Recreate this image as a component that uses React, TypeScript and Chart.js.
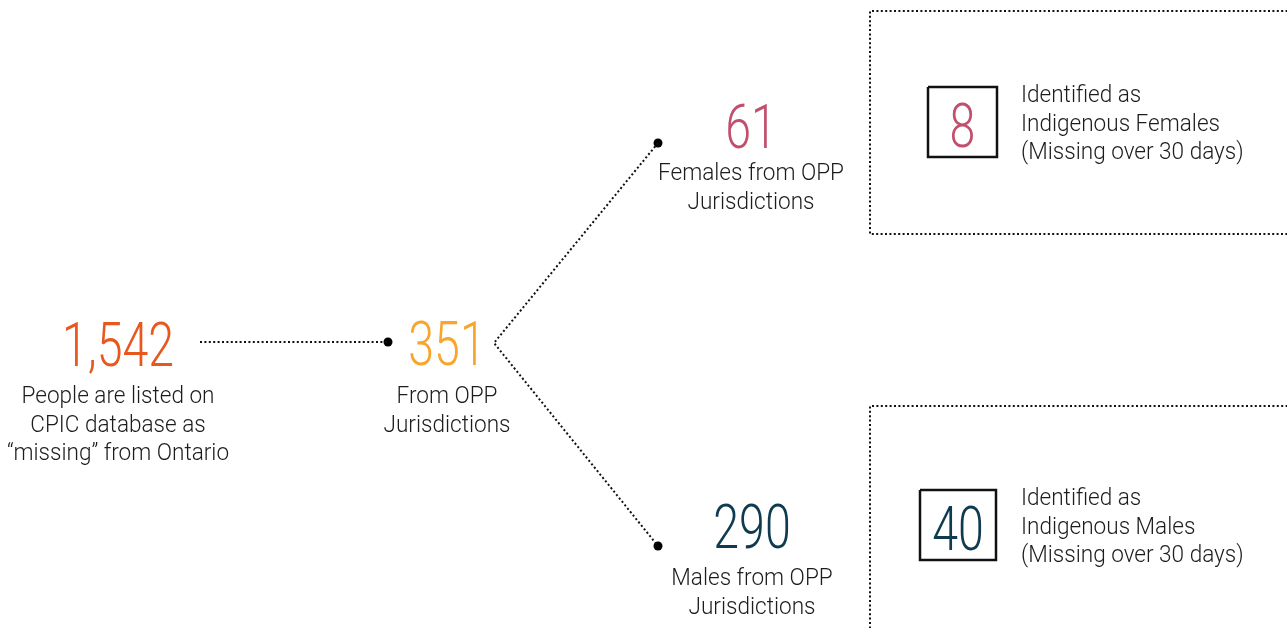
import { useEffect, useRef } from 'react';
import { Chart, registerables } from 'chart.js';

Chart.register(...registerables);

// ---------- data ----------
const stageValues = [1542, 351, 61, 290];
const stageCaptions = [
  ['People are listed on', 'CPIC database as', '\u201Cmissing\u201D from Ontario'],
  ['From OPP', 'Jurisdictions'],
  ['Females from OPP', 'Jurisdictions'],
  ['Males from OPP', 'Jurisdictions'],
];
const indigenousValues = [8, 40];
const indigenousCaptions = [
  ['Identified as', 'Indigenous Females', '(Missing over 30 days)'],
  ['Identified as', 'Indigenous Males', '(Missing over 30 days)'],
];

// ---------- layout / style ----------
const W = 1287;
const H = 628;
const stageColors = ['#E8571E', '#F9A52B', '#C1506F', '#0E3B4F'];
const indigenousColors = ['#C1506F', '#0E3B4F'];
const stageAnchors = [
  { x: 118, numBase: 366, capBase: 403 },
  { x: 447, numBase: 365, capBase: 403 },
  { x: 751, numBase: 148, capBase: 180 },
  { x: 752, numBase: 548, capBase: 585 },
];
const connectors = [
  [[200, 342], [388, 342]],
  [[658, 143], [494, 343], [658, 546]],
];
const connectorDots = [[388, 342], [658, 143], [658, 546]];
const panels = [
  [[W + 5, 11], [870, 11], [870, 234], [W + 5, 234]],
  [[W + 5, 406], [870, 406], [870, H + 5]],
];
const squares = [
  { x0: 928, y0: 87, x1: 997, y1: 157 },
  { x0: 920, y0: 490, x1: 996, y1: 560 },
];
const indTextX = 1021;
const indTextBase = [102, 505];
const LINE_GAP = 28.7;
const FONT = 'Roboto, "Liberation Sans", sans-serif';
const BIG = 62;
const SMALL = 24;
const BIG_SX = 0.75;
const SMALL_SX = 0.94;

const pts = (arr: number[][]) => arr.map(([x, y]) => ({ x, y }));

function drawText(
  ctx: CanvasRenderingContext2D,
  text: string,
  x: number,
  y: number,
  size: number,
  color: string,
  align: CanvasTextAlign,
  sx: number
) {
  ctx.save();
  ctx.font = `300 ${size}px ${FONT}`;
  ctx.fillStyle = color;
  ctx.textBaseline = 'alphabetic';
  ctx.textAlign = align;
  ctx.translate(x, y);
  ctx.scale(sx, 1);
  ctx.fillText(text, 0, 0);
  ctx.restore();
}

const textPlugin = {
  id: 'infoText',
  afterDatasetsDraw(chart: any) {
    const ctx = chart.ctx as CanvasRenderingContext2D;
    const sx = chart.scales.x;
    const sy = chart.scales.y;
    const px = (v: number) => sx.getPixelForValue(v);
    const py = (v: number) => sy.getPixelForValue(v);
    stageValues.forEach((v, i) => {
      const a = stageAnchors[i];
      drawText(ctx, v.toLocaleString('en-US'), px(a.x), py(a.numBase), BIG, stageColors[i], 'center', BIG_SX);
      stageCaptions[i].forEach((line, j) => {
        drawText(ctx, line, px(a.x), py(a.capBase + j * LINE_GAP), SMALL, '#1c1c1c', 'center', SMALL_SX);
      });
    });
    indigenousValues.forEach((v, i) => {
      const s = squares[i];
      const cx = (s.x0 + s.x1) / 2;
      drawText(ctx, String(v), px(cx), py(s.y1 - 10), BIG, indigenousColors[i], 'center', BIG_SX);
      indigenousCaptions[i].forEach((line, j) => {
        drawText(ctx, line, px(indTextX), py(indTextBase[i] + j * LINE_GAP), SMALL, '#1c1c1c', 'left', SMALL_SX);
      });
    });
  },
};

export default function App() {
  const ref = useRef<HTMLCanvasElement | null>(null);
  useEffect(() => {
    if (!ref.current) return;
    const dotted = { borderColor: '#111', borderWidth: 2, borderDash: [2, 2.4], pointRadius: 0, showLine: true, fill: false, tension: 0, clip: false };
    const datasets: any[] = [];
    connectors.forEach((c) => datasets.push({ ...dotted, data: pts(c) }));
    panels.forEach((p) => datasets.push({ ...dotted, data: pts(p) }));
    squares.forEach((s) =>
      datasets.push({
        data: pts([[s.x0, s.y0], [s.x1, s.y0], [s.x1, s.y1], [s.x0, s.y1], [s.x0, s.y0]]),
        borderColor: '#111',
        borderWidth: 2.5,
        borderJoinStyle: 'miter',
        pointRadius: 0,
        showLine: true,
        fill: false,
        tension: 0,
        clip: false,
      })
    );
    datasets.push({
      data: pts(connectorDots),
      pointRadius: 4.5,
      pointBackgroundColor: '#000',
      pointBorderWidth: 0,
      showLine: false,
      clip: false,
    });
    const chart = new Chart(ref.current, {
      type: 'scatter',
      data: { datasets },
      options: {
        animation: false,
        responsive: true,
        maintainAspectRatio: false,
        events: [],
        layout: { padding: 0, autoPadding: false },
        plugins: { legend: { display: false }, tooltip: { enabled: false } },
        scales: {
          x: { type: 'linear', min: 0, max: W, display: false },
          y: { type: 'linear', min: 0, max: H, reverse: true, display: false },
        },
      },
      plugins: [textPlugin],
    });
    return () => chart.destroy();
  }, []);
  return (
    <div style={{ position: 'fixed', left: 0, top: 0, width: W, height: H, background: '#fff' }}>
      <canvas ref={ref} />
    </div>
  );
}
